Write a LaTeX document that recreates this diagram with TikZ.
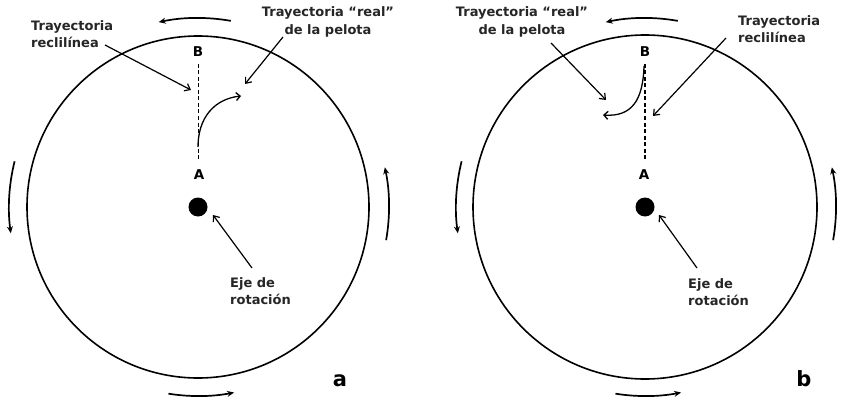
\documentclass[tikz,border=0pt]{standalone}
\usepackage{fontspec}
\setmainfont{DejaVu Sans}
\usetikzlibrary{arrows.meta}
\begin{document}
\begin{tikzpicture}[x=1pt,y=-1pt,
  txt/.style={font=\bfseries\fontsize{13}{17.5}\selectfont, inner sep=0pt, text=black!85},
  pt/.style={font=\bfseries\fontsize{13.5}{15}\selectfont, inner sep=0pt},
  big/.style={font=\bfseries\fontsize{21}{23}\selectfont, inner sep=0pt},
  ptr/.style={line width=1.2pt, -{Straight Barb[length=5pt,width=8pt]}},
  rot/.style={line width=1.7pt, -{Stealth[length=7pt,width=6pt]}},
  rim/.style={line width=1.6pt},
  traj/.style={line width=1.2pt, dash pattern=on 4pt off 2.5pt},
  real/.style={line width=1.3pt, -{Straight Barb[length=4pt,width=8pt]}}]
\useasboundingbox (0,0) rectangle (842,401);
\fill[white] (0,0) rectangle (842,401);

% ---------- panel a ----------
\node[circle, draw, rim, minimum size=342pt, inner sep=0pt] (ca) at (198,207) {};
\node[circle, fill=black, minimum size=19pt, inner sep=0pt] (da) at (198,207) {};
\node[pt] (Ba) at (198,52) {B};
\node[pt] (Aa) at (199,175) {A};
\draw[traj, line width=1pt] (198,64) coordinate (ba1) -- (198,160) coordinate (aa1);
\draw[real] (198,147) coordinate (ra0) .. controls (198,118) and (214,99) .. (241,96) coordinate (ra1);
\node[txt, align=left, anchor=west] (la1) at (31,34) {Trayectoria\\reclilínea};
\node[txt, align=center] (la2) at (328,22) {Trayectoria “real”\\de la pelota};
\node[txt, align=left, anchor=west] (la3) at (230,291) {Eje de\\rotación};
\coordinate (pa1s) at (105,45); \coordinate (pa1e) at (191,90);
\coordinate (pa2s) at (283,37); \coordinate (pa2e) at (245,84);
\coordinate (pa3s) at (252,268); \coordinate (pa3e) at (213,215);
\draw[ptr] (pa1s) -- (pa1e);
\draw[ptr] (pa2s) -- (pa2e);
\draw[ptr] (pa3s) -- (pa3e);
\draw[rot] (198,207) ++(-80:189) arc[start angle=-80, end angle=-102, radius=189];
\draw[rot] (198,207) ++(194:189) arc[start angle=194, end angle=172, radius=189];
\draw[rot] (198,207) ++(99:189) arc[start angle=99, end angle=79, radius=189];
\draw[rot] (198,207) ++(10:191) arc[start angle=10, end angle=-12, radius=191];
\node[big] (na) at (340,381) {a};

% ---------- panel b ----------
\node[circle, draw, rim, minimum size=344pt, inner sep=0pt] (cb) at (645,207) {};
\node[circle, fill=black, minimum size=19pt, inner sep=0pt] (db) at (645,207) {};
\node[pt] (Bb) at (645,52) {B};
\node[pt] (Ab) at (644,175) {A};
\draw[traj, line width=1.8pt] (645,64) coordinate (bb1) -- (645,160) coordinate (ab1);
\draw[real] (644,66) coordinate (rb0) .. controls (643,100) and (632,117) .. (603,115) coordinate (rb1);
\node[txt, align=center] (lb2) at (522,22) {Trayectoria “real”\\de la pelota};
\node[txt, align=left, anchor=west] (lb1) at (738,29) {Trayectoria\\reclilínea};
\node[txt, align=left, anchor=west] (lb3) at (688,292) {Eje de\\rotación};
\coordinate (pb2s) at (551,43); \coordinate (pb2e) at (606,100);
\coordinate (pb1s) at (726,38); \coordinate (pb1e) at (653,116);
\coordinate (pb3s) at (697,268); \coordinate (pb3e) at (659,215);
\draw[ptr] (pb2s) -- (pb2e);
\draw[ptr] (pb1s) -- (pb1e);
\draw[ptr] (pb3s) -- (pb3e);
\draw[rot] (645,207) ++(-80:189) arc[start angle=-80, end angle=-102, radius=189];
\draw[rot] (645,207) ++(194:189) arc[start angle=194, end angle=172, radius=189];
\draw[rot] (645,207) ++(99:189) arc[start angle=99, end angle=79, radius=189];
\draw[rot] (645,207) ++(10:191) arc[start angle=10, end angle=-12, radius=191];
\node[big] (nb) at (804,379) {b};
\end{tikzpicture}
\end{document}
